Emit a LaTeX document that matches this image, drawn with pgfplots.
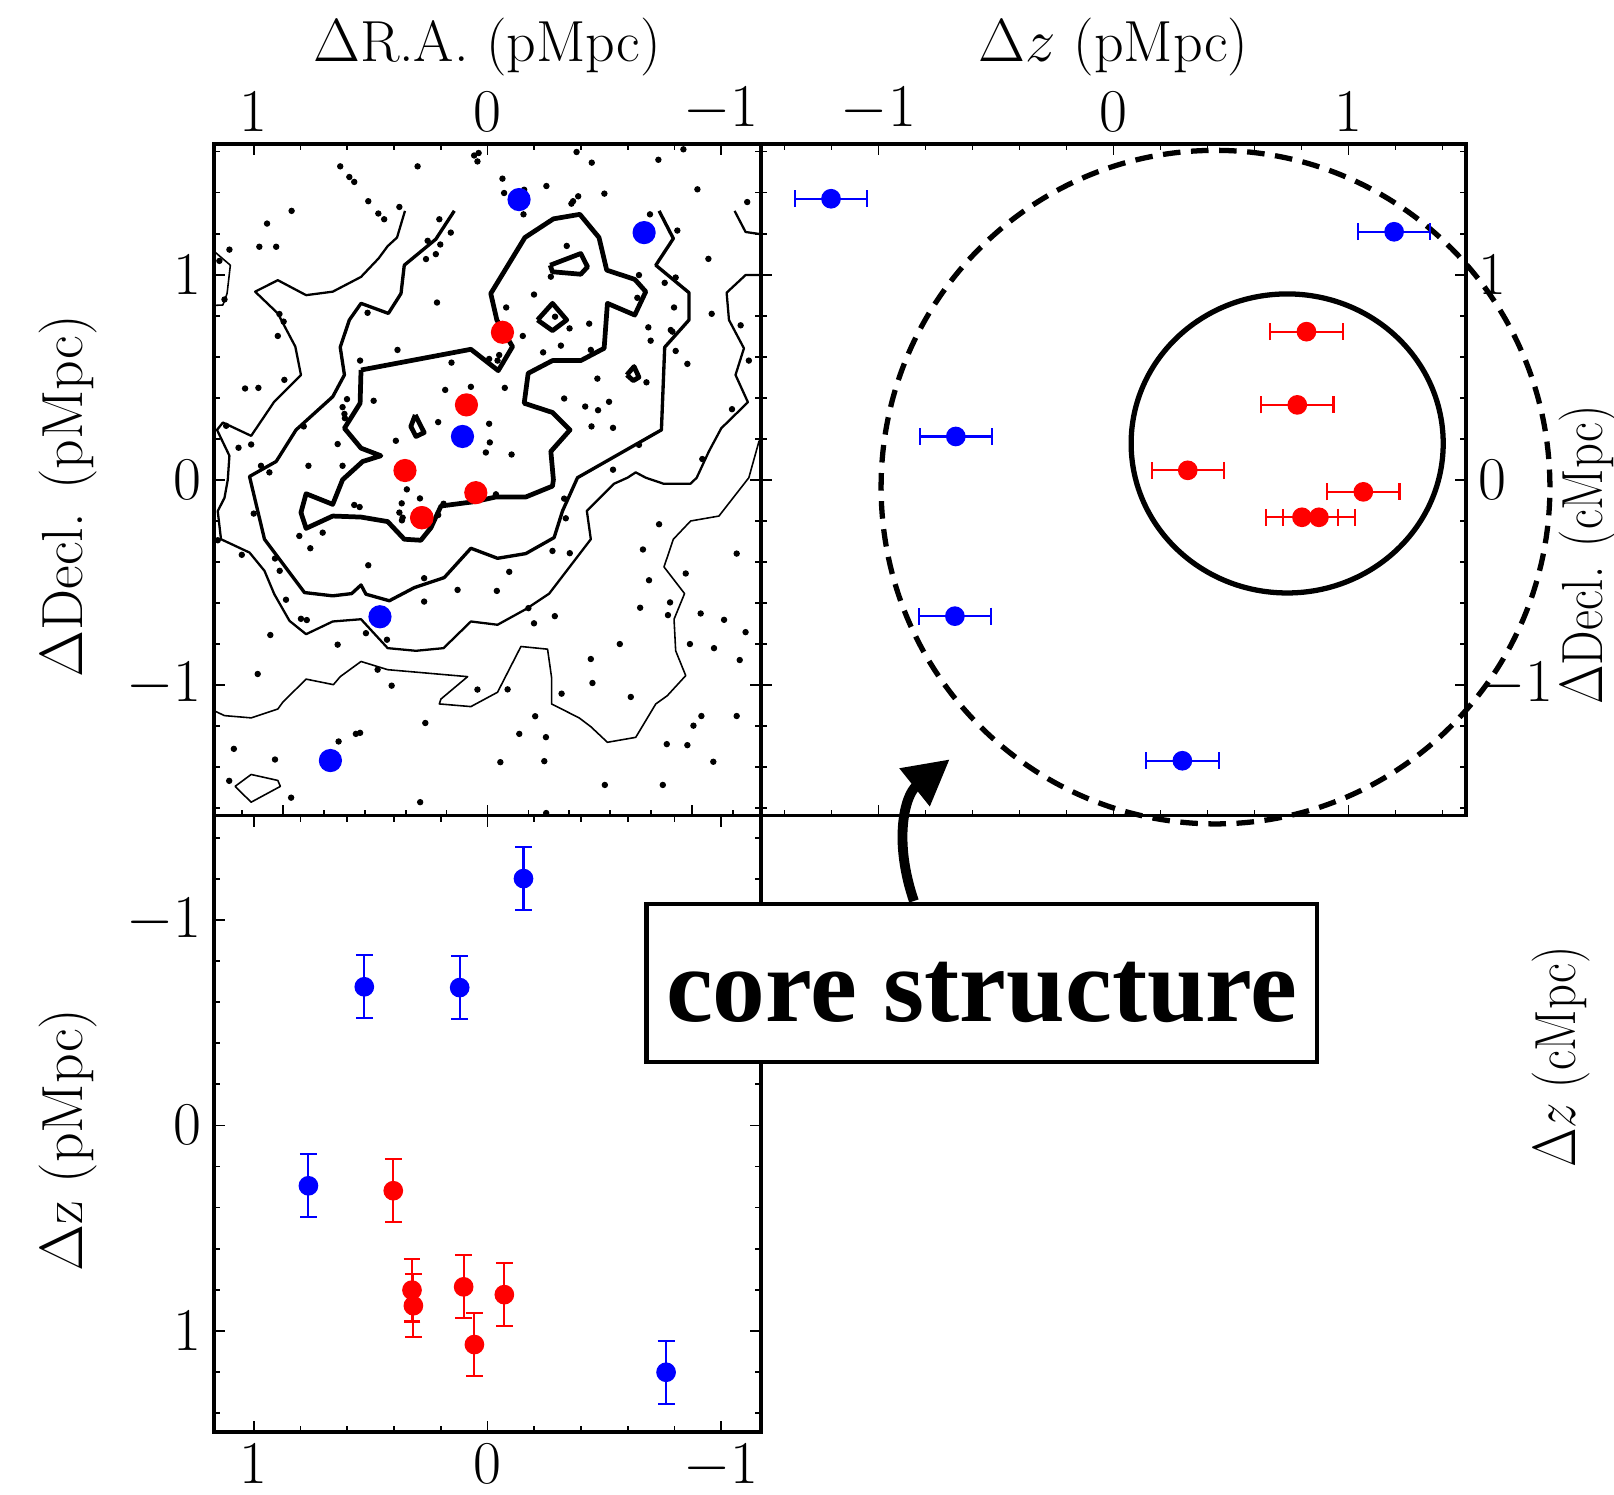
\documentclass[border=0pt]{standalone}
\usepackage{fontspec}
\usepackage{graphicx}
\usepackage{pgfplots}
\usepackage{pgfplotstable}
\pgfplotsset{compat=1.18}
\usetikzlibrary{arrows.meta}
\newfontfamily\boldserif{Liberation Serif}
\newcommand\lblfont{\fontsize{16.5}{19.8}\selectfont}

% background galaxies (Delta R.A., Delta Decl.) in pMpc
\pgfplotstableread{
ra dec
0.630 1.528
0.591 1.476
0.570 1.452
0.299 1.528
0.510 1.358
0.377 1.330
0.467 1.298
0.442 1.270
0.838 1.311
0.943 1.249
0.976 1.136
0.904 1.136
1.104 1.122
1.147 1.067
1.125 0.879
0.890 0.808
0.872 0.771
0.897 0.701
0.513 0.814
0.385 0.633
0.545 0.581
0.869 0.487
1.037 0.445
0.980 0.448
0.601 0.393
0.620 0.354
0.612 0.321
0.610 0.300
0.487 0.385
0.786 0.260
1.118 0.263
1.065 0.156
1.011 0.172
0.641 0.174
0.392 0.190
0.969 0.068
0.933 0.036
0.766 0.068
0.620 0.068
0.057 1.581
0.038 1.593
0.043 1.552
-0.381 1.598
-0.446 1.546
-0.731 1.560
-0.838 1.611
-0.064 1.468
-0.071 1.398
-0.154 1.294
-0.252 1.432
-0.157 1.414
-0.366 1.358
-0.359 1.346
-0.388 1.382
-0.500 1.395
-0.898 1.416
-1.111 1.354
-0.695 1.294
-0.812 1.215
0.206 1.270
0.157 1.205
0.202 1.147
0.221 1.100
0.263 1.076
0.256 1.165
-0.339 1.140
-0.945 1.077
-0.271 0.990
-0.648 0.998
-0.805 0.986
-0.758 0.960
-0.199 0.903
0.216 0.864
-0.080 0.840
-0.798 0.840
-0.959 0.809
-0.435 0.761
-0.351 0.738
-0.289 0.795
-0.641 0.887
-0.688 0.743
-0.698 0.678
-0.784 0.730
-0.791 0.722
-1.083 0.753
-0.151 0.701
-0.314 0.654
-0.238 0.621
-0.442 0.633
-0.050 0.608
-0.007 0.589
-0.043 0.581
-0.805 0.628
-0.855 0.565
-1.118 0.581
0.154 0.571
-0.470 0.493
-0.680 0.475
-0.074 0.448
0.071 0.453
0.181 0.438
-0.328 0.396
-0.418 0.357
-0.473 0.339
-0.520 0.380
-1.046 0.344
0.211 0.281
-0.007 0.273
-0.445 0.260
-0.537 0.253
-0.010 0.182
0.007 0.133
-0.103 0.123
-0.648 0.170
-0.919 0.101
-0.537 0.049
0.345 -0.047
0.289 -0.091
0.367 -0.115
0.570 -0.123
0.547 -0.133
0.377 -0.160
0.363 -0.185
0.366 -0.198
1.000 -0.165
1.154 -0.295
0.805 -0.274
0.705 -0.258
0.758 -0.334
1.051 -0.366
0.909 -0.384
0.889 -0.444
0.510 -0.417
0.862 -0.585
0.798 -0.678
0.773 -0.684
0.929 -0.757
0.520 -0.748
0.430 -0.780
0.641 -0.804
0.983 -0.947
0.470 -0.926
0.410 -1.004
1.085 -1.312
0.637 -1.276
0.563 -1.239
0.545 -1.234
0.909 -1.364
1.105 -1.468
0.840 -1.550
0.288 -1.572
0.188 -0.117
0.211 -0.172
-0.036 -0.071
-0.328 -0.092
-0.335 -0.188
0.271 -0.480
0.271 -0.594
0.128 -0.537
-0.040 -0.542
-0.093 -0.449
-0.278 -0.347
-0.352 -0.358
-0.175 -0.626
-0.199 -0.700
-0.288 -0.665
-0.734 -0.217
-0.665 -0.340
-1.066 -0.360
-0.691 -0.490
-0.848 -0.457
-0.781 -0.598
-0.772 -0.660
-0.653 -0.624
-0.912 -0.652
-1.012 -0.683
-1.104 -0.743
-0.566 -0.801
-0.866 -0.801
-0.969 -0.821
-1.079 -0.879
-0.442 -0.874
-0.449 -0.991
0.043 -1.023
-0.086 -1.022
-0.317 -1.043
-0.613 -1.059
-0.204 -1.153
-0.136 -1.239
-0.250 -1.255
0.266 -1.186
-0.881 -1.199
-0.915 -1.152
-1.066 -1.152
-0.767 -1.289
-0.855 -1.294
-0.055 -1.377
-0.243 -1.372
-0.966 -1.375
-0.502 -1.488
-0.750 -1.488
-0.251 -1.625
}\bgdots

\pgfplotsset{
  panel/.style={
    scale only axis,
    axis line style={line width=0.9pt},
    tick align=inside,
    major tick length=0.11cm,
    minor tick length=0.06cm,
    every tick/.style={black, line width=0.5pt},
    tick label style={font=\lblfont},
  },
  lev0/.style={black, line width=0.45pt, line join=round},
  lev1/.style={black, line width=0.65pt, line join=round},
  lev2/.style={black, line width=0.95pt, line join=round},
  lev3/.style={black, line width=1.35pt, line join=round},
  member/.style={only marks, mark=*, mark size=3.1pt},
  zerr/.style={only marks, mark=*, mark size=2.6pt,
    /pgfplots/error bars/error bar style={line width=0.6pt},
    /pgfplots/error bars/error mark options={mark size=2.4pt, line width=0.6pt}},
}

\begin{document}
\begin{tikzpicture}

% ---------------- sky map: Delta R.A. vs Delta Decl. ----------------
\begin{axis}[panel, at={(2.14cm,6.785cm)}, anchor=south west,
  width=5.47cm, height=6.715cm,
  xmin=-1.17, xmax=1.17, x dir=reverse,
  ymin=-1.637, ymax=1.637,
  xtick={-1,0,1}, minor xtick={-0.8,-0.6,-0.4,-0.2,0.2,0.4,0.6,0.8},
  ytick={-1,0,1}, minor ytick={-1.6,-1.4,-1.2,-0.8,-0.6,-0.4,-0.2,0.2,0.4,0.6,0.8,1.2,1.4,1.6},
  xtick pos=right, xticklabel pos=right,
  ytick pos=both, yticklabel pos=left,
]
\addplot[only marks, mark=*, mark size=0.75pt, black, mark options={line width=0.3pt}] table[x=ra, y=dec] {\bgdots};

% density contours, lowest level
\addplot[lev0] coordinates {(1.17,1.114) (1.100,1.046) (1.114,0.908) (1.132,0.852) (1.17,0.850)};
\addplot[lev0] coordinates {(1.17,-1.126) (1.125,-1.150) (1.011,-1.161) (0.897,-1.118) (0.876,-1.085) (0.776,-0.972) (0.659,-0.999) (0.630,-0.960) (0.541,-0.886) (0.427,-0.926) (0.085,-0.960) (0.199,-1.069) (0.206,-1.093) (0.071,-1.106) (-0.043,-1.036) (-0.143,-0.813) (-0.257,-0.826) (-0.274,-0.963) (-0.274,-1.093) (-0.392,-1.161) (-0.442,-1.204) (-0.513,-1.280) (-0.634,-1.256) (-0.720,-1.093) (-0.769,-1.053) (-0.848,-0.955) (-0.805,-0.834) (-0.798,-0.680) (-0.843,-0.555) (-0.755,-0.425) (-0.795,-0.290) (-0.869,-0.201) (-0.990,-0.177) (-1.118,0.010) (-1.161,0.186) (-1.17,0.200)};
\addplot[lev0] coordinates {(1.080,-1.495) (1.011,-1.437) (0.897,-1.466) (0.886,-1.495) (1.011,-1.572) (1.080,-1.495)};

% second level
\addplot[lev1] coordinates {(0.353,1.311) (0.387,1.181) (0.427,1.139) (0.466,1.079) (0.541,0.989) (0.662,0.917) (0.776,0.900) (0.897,0.973) (0.994,0.917) (0.897,0.811) (0.822,0.649) (0.798,0.511) (0.912,0.381) (1.011,0.214) (1.132,0.279) (1.157,0.243) (1.104,0.117) (1.111,0.000) (1.125,-0.088) (1.154,-0.153) (1.140,-0.290) (1.018,-0.355) (0.954,-0.444) (0.912,-0.558) (0.847,-0.688) (0.776,-0.753) (0.662,-0.691) (0.541,-0.680) (0.427,-0.821) (0.306,-0.834) (0.188,-0.821) (0.071,-0.691) (-0.043,-0.707) (-0.164,-0.631) (-0.264,-0.555) (-0.442,-0.290) (-0.425,-0.152) (-0.542,-0.019) (-0.599,0.010) (-0.634,0.036) (-0.677,0.010) (-0.752,-0.019) (-0.869,-0.019) (-0.895,0.010) (-0.947,0.138) (-1.000,0.251) (-1.114,0.378) (-1.061,0.511) (-1.097,0.641) (-1.033,0.779) (-1.023,0.912) (-1.104,0.998) (-1.17,0.998)};
\addplot[lev1] coordinates {(-1.057,1.311) (-1.104,1.208) (-1.17,1.197)};

% third level
\addplot[lev2] coordinates {(0.142,1.311) (0.221,1.173) (0.356,1.046) (0.370,0.908) (0.424,0.811) (0.541,0.860) (0.591,0.779) (0.630,0.646) (0.612,0.511) (0.662,0.405) (0.819,0.243) (0.904,0.089) (1.018,0.016) (0.954,-0.290) (0.783,-0.550) (0.662,-0.566) (0.581,-0.555) (0.541,-0.513) (0.520,-0.558) (0.420,-0.590) (0.313,-0.526) (0.185,-0.477) (0.071,-0.334) (-0.043,-0.383) (-0.164,-0.360) (-0.285,-0.282) (-0.321,-0.152) (-0.385,0.010) (-0.744,0.243) (-0.758,0.646) (-0.862,0.779) (-0.862,0.912) (-0.720,1.046) (-0.795,1.176) (-0.734,1.311)};

% highest level
\addplot[lev3] coordinates {(0.541,0.535) (0.071,0.636) (-0.046,0.532) (-0.107,0.649) (-0.086,0.689) (-0.040,0.779) (-0.014,0.908) (-0.160,1.181) (-0.282,1.272) (-0.395,1.294) (-0.477,1.181) (-0.510,1.022) (-0.630,0.977) (-0.677,0.917) (-0.630,0.803) (-0.513,0.860) (-0.499,0.641) (-0.399,0.581) (-0.278,0.581) (-0.174,0.519) (-0.157,0.373) (-0.278,0.328) (-0.353,0.243) (-0.271,0.138) (-0.282,0.000) (-0.278,-0.031) (-0.164,-0.084) (-0.036,-0.084) (0.057,-0.107) (0.199,-0.128) (0.242,-0.234) (0.285,-0.295) (0.356,-0.290) (0.427,-0.204) (0.541,-0.182) (0.662,-0.177) (0.776,-0.237) (0.798,-0.160) (0.776,-0.068) (0.662,-0.120) (0.620,0.000) (0.534,0.089) (0.456,0.117) (0.541,0.154) (0.612,0.251) (0.545,0.373) (0.541,0.535)};
\addplot[lev3] coordinates {(-0.268,1.046) (-0.399,1.103) (-0.428,1.038) (-0.399,1.002) (-0.278,1.014) (-0.268,1.046)};
\addplot[lev3] coordinates {(-0.214,0.779) (-0.278,0.860) (-0.339,0.779) (-0.278,0.727) (-0.214,0.779)};
\addplot[lev3] coordinates {(-0.596,0.511) (-0.627,0.552) (-0.648,0.500) (-0.624,0.483) (-0.596,0.511)};
\addplot[lev3] coordinates {(0.309,0.316) (0.271,0.230) (0.306,0.211) (0.328,0.260) (0.309,0.316)};

% spectroscopic members
\addplot[blue, member] coordinates {(-0.135,1.366) (-0.670,1.205) (0.107,0.211) (0.460,-0.668) (0.672,-1.369)};
\addplot[red, member] coordinates {(-0.064,0.719) (0.090,0.365) (0.353,0.045) (0.050,-0.063) (0.282,-0.185) (0.280,-0.185)};
\end{axis}

% lower edge of the sky map carries its own tick spacing
\begin{axis}[panel, at={(2.14cm,6.785cm)}, anchor=south west,
  width=5.47cm, height=6.715cm,
  xmin=-1.17, xmax=1.17, x dir=reverse,
  ymin=-1.637, ymax=1.637,
  hide y axis,
  xtick={-0.875,0,0.875}, minor xtick={-1.05,-0.7,-0.525,-0.35,-0.175,0.175,0.35,0.525,0.7,1.05},
  xtick pos=left, xticklabels={},
]
\addplot[draw=none] coordinates {(0,0)};
\end{axis}

% ---------------- Delta z vs Delta Decl. ----------------
\begin{axis}[panel, at={(7.61cm,6.785cm)}, anchor=south west,
  width=7.05cm, height=6.715cm,
  xmin=-1.5, xmax=1.5, ymin=-1.637, ymax=1.637,
  xtick={-1,0,1}, minor xtick={-1.4,-1.2,-0.8,-0.6,-0.4,-0.2,0.2,0.4,0.6,0.8,1.2,1.4},
  ytick={-1,0,1}, minor ytick={-1.6,-1.4,-1.2,-0.8,-0.6,-0.4,-0.2,0.2,0.4,0.6,0.8,1.2,1.4,1.6},
  xticklabel pos=right, yticklabel pos=right,
  clip=false,
]
\draw[line width=1.5pt, dash pattern=on 5pt off 3pt] (axis cs:0.434,-0.036) ellipse [x radius=1.423, y radius=1.642];
\draw[line width=1.5pt] (axis cs:0.739,0.177) ellipse [x radius=0.664, y radius=0.729];
\addplot[blue, zerr, error bars/.cd, x dir=both, x explicit, error mark=|] coordinates {
  (-1.202,1.370) +- (0.154,0)
  (1.194,1.209) +- (0.154,0)
  (-0.671,0.211) +- (0.154,0)
  (-0.675,-0.665) +- (0.154,0)
  (0.293,-1.370) +- (0.154,0)};
\addplot[red, zerr, error bars/.cd, x dir=both, x explicit, error mark=|] coordinates {
  (0.821,0.722) +- (0.154,0)
  (0.782,0.365) +- (0.154,0)
  (0.316,0.046) +- (0.154,0)
  (1.063,-0.059) +- (0.154,0)
  (0.802,-0.183) +- (0.154,0)
  (0.874,-0.183) +- (0.154,0)};
\end{axis}

% ---------------- Delta R.A. vs Delta z ----------------
\begin{axis}[panel, at={(2.14cm,0.62cm)}, anchor=south west,
  width=5.47cm, height=6.165cm,
  xmin=-1.17, xmax=1.17, x dir=reverse,
  ymin=-1.509, ymax=1.493, y dir=reverse,
  xtick={-1,0,1}, minor xtick={-0.8,-0.6,-0.4,-0.2,0.2,0.4,0.6,0.8},
  ytick={-1,0,1}, minor ytick={-1.4,-1.2,-0.8,-0.6,-0.4,-0.2,0.2,0.4,0.6,0.8,1.2,1.4},
]
\addplot[blue, zerr, error bars/.cd, y dir=both, y explicit, error mark=|] coordinates {
  (0.766,0.294) +- (0,0.153)
  (0.527,-0.675) +- (0,0.153)
  (0.119,-0.671) +- (0,0.153)
  (-0.154,-1.202) +- (0,0.153)
  (-0.764,1.202) +- (0,0.153)};
\addplot[red, zerr, error bars/.cd, y dir=both, y explicit, error mark=|] coordinates {
  (0.403,0.318) +- (0,0.153)
  (0.323,0.802) +- (0,0.153)
  (0.317,0.878) +- (0,0.153)
  (0.102,0.786) +- (0,0.153)
  (0.056,1.067) +- (0,0.153)
  (-0.072,0.824) +- (0,0.153)};
\end{axis}

% axis titles
\node[anchor=base, font=\lblfont] at (4.87,14.32) {$\Delta$R.A. (pMpc)};
\node[anchor=base, font=\lblfont] at (11.135,14.32) {$\Delta z$ (pMpc)};
\node[anchor=base, rotate=90, font=\lblfont] at (0.82,9.98) {$\Delta$Decl. (pMpc)};
\node[anchor=base, rotate=90, font=\lblfont] at (0.82,3.54) {$\Delta$z (pMpc)};
\node[anchor=base, rotate=90, font=\lblfont] at (16.02,9.39) {\scalebox{0.84}[1]{$\Delta$Decl. (cMpc)}};
\node[anchor=base, rotate=90, font=\lblfont] at (15.75,4.37) {\scalebox{0.84}[1]{$\Delta z$ (cMpc)}};

% annotation
\draw[line width=1.4pt, fill=white] (6.466,4.32) rectangle (13.17,5.90);
\node[anchor=base, font=\boldserif\bfseries\fontsize{30}{36}\selectfont] at (9.818,4.723) {core structure};
\draw[line width=2.8pt, -{Triangle[length=0.45cm,width=0.46cm]}]
  (9.139,5.93) .. controls (8.93,6.54) and (9.05,6.99) .. (9.497,7.347);

\pgfresetboundingbox
\path[use as bounding box] (0,0) rectangle (16.14,14.94);
\end{tikzpicture}
\end{document}
